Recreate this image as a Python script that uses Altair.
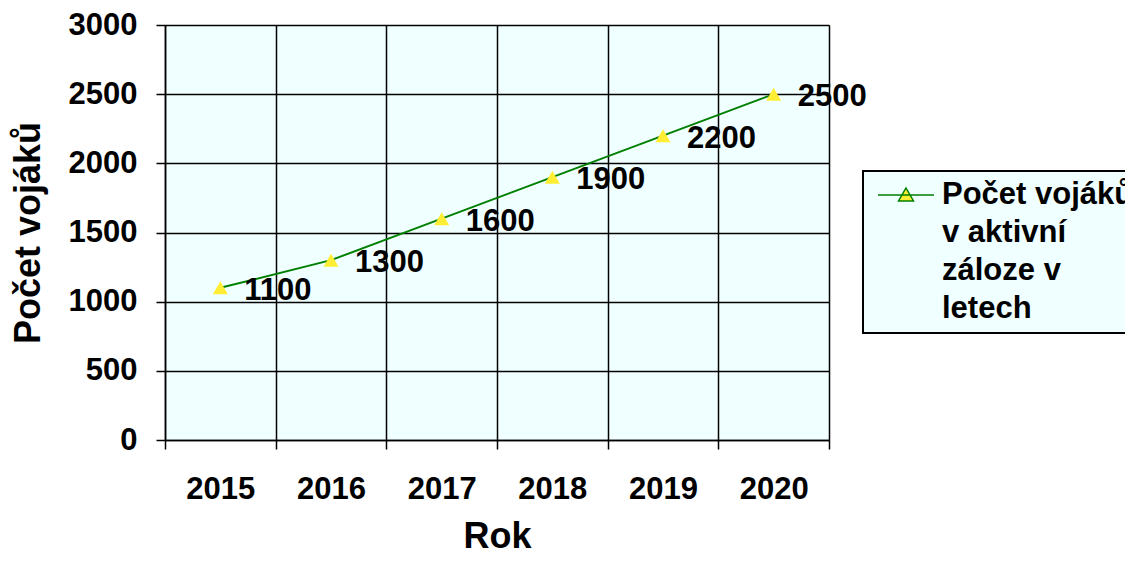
import altair as alt
import pandas as pd

# ---- data ----
roky = ["2015", "2016", "2017", "2018", "2019", "2020"]
vojaci = [1100, 1300, 1600, 1900, 2200, 2500]
serie_nazev = "Počet vojáků v aktivní záloze v letech"
legenda_radky = ["Počet vojáků", "v aktivní", "záloze v", "letech"]
y_hodnoty = [0, 500, 1000, 1500, 2000, 2500, 3000]
x_titulek = "Rok"
y_titulek = "Počet vojáků"

df = pd.DataFrame({"Rok": roky, "Pocet": vojaci, "serie": [serie_nazev] * len(roky)})

FONT = "Liberation Sans"
FS = 31
W, H = 664, 415
GREEN = "#008000"
YELLOW = "#FFEE33"
BG = "#F0FFFF"

x = alt.X(
    "Rok:N",
    sort=roky,
    scale=alt.Scale(type="band", paddingInner=0, paddingOuter=0),
    axis=alt.Axis(
        title=x_titulek,
        tickBand="extent",
        grid=True,
        gridColor="black",
        gridWidth=1.5,
        labelAngle=0,
        labelFont=FONT,
        labelFontSize=FS,
        labelFontWeight="bold",
        labelColor="black",
        labelPadding=25,
        tickSize=9,
        tickColor="black",
        tickWidth=1.5,
        domainColor="black",
        domainWidth=1.5,
        titleFont=FONT,
        titleFontSize=36,
        titleFontWeight="bold",
        titleColor="black",
        titleX=W / 2,
        titleY=96,
        titleAlign="center",
        titleBaseline="middle",
    ),
)

y = alt.Y(
    "Pocet:Q",
    scale=alt.Scale(domain=[0, 3000], nice=False),
    axis=alt.Axis(
        title=y_titulek,
        values=y_hodnoty,
        format="d",
        grid=True,
        gridColor="black",
        gridWidth=1.5,
        labelFont=FONT,
        labelFontSize=FS,
        labelFontWeight="bold",
        labelColor="black",
        labelPadding=19,
        tickSize=9,
        tickColor="black",
        tickWidth=1.5,
        domainColor="black",
        domainWidth=1.5,
        titleFont=FONT,
        titleFontSize=36,
        titleFontWeight="bold",
        titleColor="black",
        titleX=-137,
        titleY=H / 2,
        titleAngle=270,
        titleAlign="center",
        titleBaseline="middle",
    ),
)

# legend symbol: a short line with a triangle on it (unit coords, r = 5 px)
sym_path = (
    "M-5.6,1.8L5.6,1.8"
    "M0,0.4L1.5,3.0L-1.5,3.0Z"
)

line = alt.Chart(df).mark_line(strokeWidth=2).encode(
    x=x,
    y=y,
    color=alt.Color(
        "serie:N",
        scale=alt.Scale(range=[GREEN]),
        legend=alt.Legend(
            title=legenda_radky,
            titleOrient="right",
            titleAnchor="start",
            titleAlign="left",
            titleBaseline="top",
            titleFont=FONT,
            titleFontSize=FS,
            titleFontWeight="bold",
            titleColor="black",
            titleLineHeight=38,
            titleLimit=600,
            titlePadding=5,
            orient="none",
            legendX=698,
            legendY=146,
            symbolType=sym_path,
            symbolSize=100,
            symbolOffset=28,
            symbolStrokeColor=GREEN,
            symbolFillColor=YELLOW,
            symbolStrokeWidth=1.5,
            labelExpr="''",
            labelOffset=0,
            labelFontSize=1,
            fillColor=BG,
            strokeColor="black",
            padding=9,
        ),
    ),
)

points = alt.Chart(df).mark_point(
    shape="triangle-up", filled=True, color=YELLOW, opacity=1, size=225
).encode(x=x, y=y)

labels = alt.Chart(df).mark_text(
    align="left", baseline="middle", dx=24, dy=3,
    font=FONT, fontSize=FS, fontWeight="bold", color="black"
).encode(x=x, y=y, text="Pocet:Q")

chart = (
    alt.layer(line, points, labels)
    .properties(
        width=W,
        height=H,
        autosize=alt.AutoSizeParams(type="none"),
        padding={"left": 157, "top": 17, "right": 296, "bottom": 115},
        background="white",
    )
    .configure_view(fill=BG, stroke="#AABBBB", strokeWidth=1)
    .configure_legend(strokeWidth=2)
)

chart.save("out.html", embed_options={"renderer": "svg", "actions": False})
